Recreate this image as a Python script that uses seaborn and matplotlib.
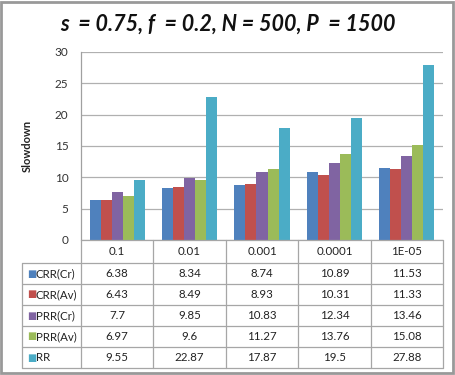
import matplotlib
matplotlib.use("Agg")
import matplotlib.pyplot as plt
import seaborn as sns
import pandas as pd
from matplotlib.patches import Rectangle

categories = ["0.1", "0.01", "0.001", "0.0001", "1E-05"]
series_names = ["CRR(Cr)", "CRR(Av)", "PRR(Cr)", "PRR(Av)", "RR"]
crr_cr = [6.38, 8.34, 8.74, 10.89, 11.53]
crr_av = [6.43, 8.49, 8.93, 10.31, 11.33]
prr_cr = [7.7, 9.85, 10.83, 12.34, 13.46]
prr_av = [6.97, 9.6, 11.27, 13.76, 15.08]
rr = [9.55, 22.87, 17.87, 19.5, 27.88]
values = [crr_cr, crr_av, prr_cr, prr_av, rr]
value_labels = [
    ["6.38", "8.34", "8.74", "10.89", "11.53"],
    ["6.43", "8.49", "8.93", "10.31", "11.33"],
    ["7.7", "9.85", "10.83", "12.34", "13.46"],
    ["6.97", "9.6", "11.27", "13.76", "15.08"],
    ["9.55", "22.87", "17.87", "19.5", "27.88"],
]
colors = ["#4F81BD", "#C0504D", "#8064A2", "#9BBB59", "#4BACC6"]

rows = []
for name, vals in zip(series_names, values):
    for c, v in zip(categories, vals):
        rows.append({"thr": c, "series": name, "val": v})
df = pd.DataFrame(rows)

sns.set_theme(style="white")
plt.rcParams["font.family"] = ["Lato", "DejaVu Sans"]

W, H = 456, 375
fig = plt.figure(figsize=(W / 100, H / 100), dpi=100)
fig.patch.set_facecolor("white")

def fx(px):
    return px / W

def fy(py):
    return 1 - py / H

x0, x1 = 81, 443
ytop, ybot = 52, 240
ax = fig.add_axes([fx(x0), fy(ybot), fx(x1 - x0), (ybot - ytop) / H])
sns.barplot(data=df, x="thr", y="val", hue="series", order=categories,
            hue_order=series_names, palette=colors, width=0.76,
            saturation=1, ax=ax, legend=False, edgecolor="none")
ax.set_xlim(-0.5, 4.5)
ax.set_ylim(0, 30)
ax.set_yticks(range(0, 31, 5))
ax.set_yticklabels([str(v) for v in range(0, 31, 5)], fontsize=8.5, color="#333333")
ax.tick_params(axis="y", length=0, pad=9)
ax.set_xticks([])
ax.set_xlabel("")
ax.set_ylabel("Slowdown", fontsize=8, fontweight="bold", labelpad=16, color="#222222")
ax.yaxis.grid(True, color="#b0b0b0", linewidth=0.9)
ax.set_axisbelow(True)
for s in ["top", "right", "bottom"]:
    ax.spines[s].set_visible(False)
ax.spines["left"].set_color("#a0a0a0")
ax.spines["left"].set_linewidth(0.9)

# data table
tl = 22
ttop, tbot = 240, 368
tax = fig.add_axes([fx(tl), fy(tbot), fx(x1 - tl), (tbot - ttop) / H])
colw = (x1 - x0) / 5.0
tax.set_xlim(-0.5 - (x0 - tl) / colw, 4.5)
hdr_h = 23.0
row_h = (tbot - ttop - hdr_h) / 5.0
tax.set_ylim(tbot - ttop, 0)
tax.axis("off")
lc = "#a6a6a6"
lw = 0.9
xl = -0.5 - (x0 - tl) / colw
tax.plot([-0.5, 4.5], [0, 0], color=lc, lw=lw, clip_on=False)
for i in range(6):
    yy = hdr_h + i * row_h
    tax.plot([xl, 4.5], [yy, yy], color=lc, lw=lw, clip_on=False)
for k in range(6):
    xx = -0.5 + k
    tax.plot([xx, xx], [0, tbot - ttop], color=lc, lw=lw, clip_on=False)
tax.plot([xl, xl], [hdr_h, tbot - ttop], color=lc, lw=lw, clip_on=False)
for j, c in enumerate(categories):
    tax.text(j, hdr_h / 2, c, ha="center", va="center", fontsize=8.3, color="#222222")
for i, name in enumerate(series_names):
    yc = hdr_h + (i + 0.5) * row_h
    tax.text(xl + 0.07, yc, "\u25A0", ha="left", va="center", fontsize=7,
             color=colors[i], family="DejaVu Sans")
    tax.text(xl + 0.19, yc, name, ha="left", va="center", fontsize=8.3, color="#222222")
    for j in range(5):
        tax.text(j, yc, value_labels[i][j], ha="center", va="center",
                 fontsize=8.3, color="#222222")

fig.text(fx(228), fy(24), "s  = 0.75, f  = 0.2, N = 500, P  = 1500",
         ha="center", va="center", fontsize=15.5, fontweight="bold",
         fontstyle="italic", color="#111111")

fig.patches.append(Rectangle((fx(1.5), fy(373)), fx(452), (371.5) / H,
                             transform=fig.transFigure, fill=False,
                             edgecolor="#999999", linewidth=2))

fig.savefig("out.png", dpi=100)
